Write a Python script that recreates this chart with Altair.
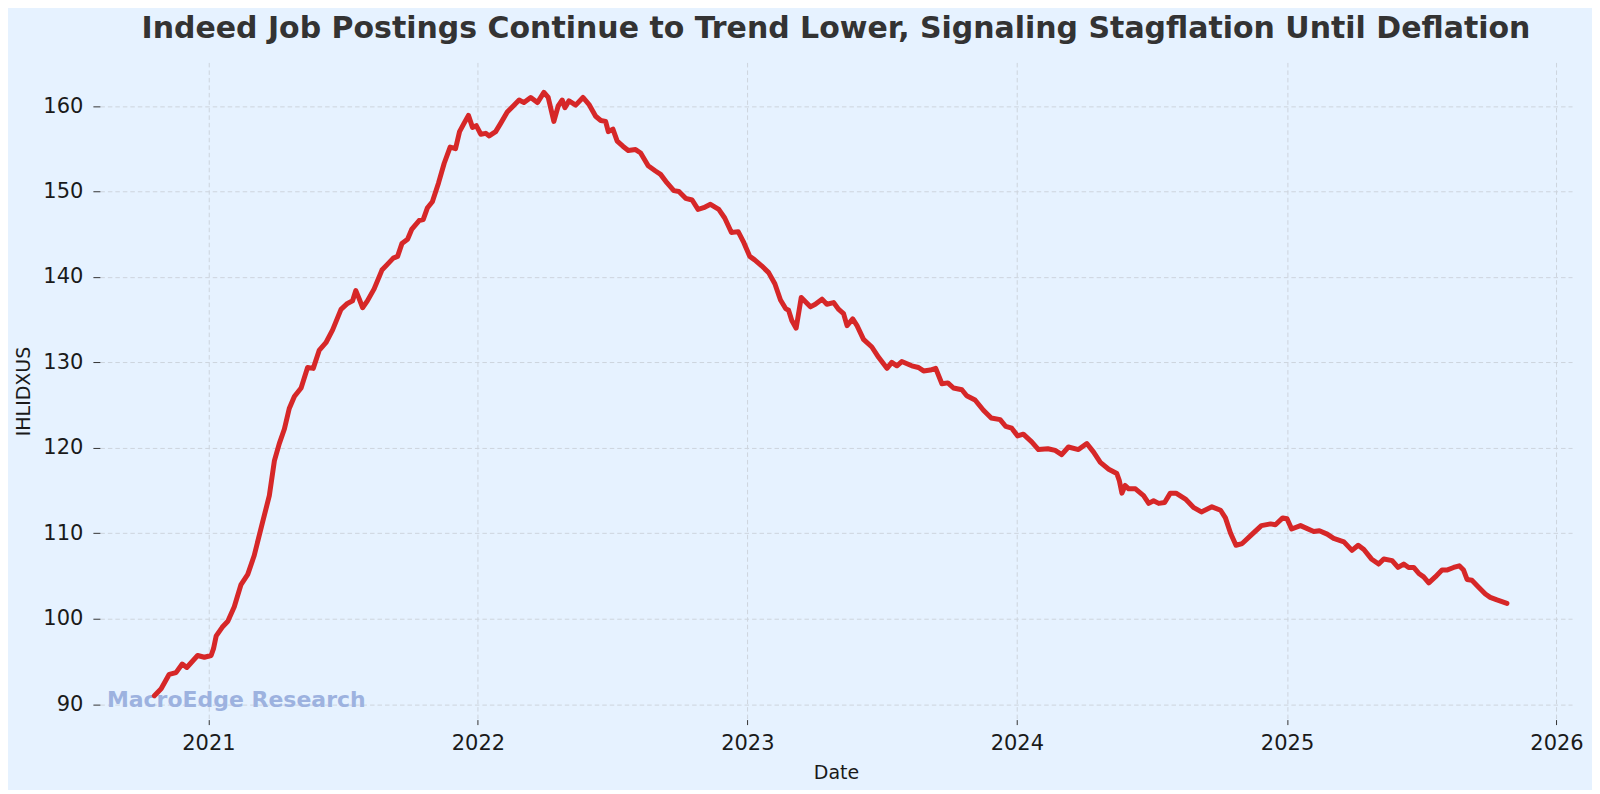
import altair as alt
import pandas as pd
import numpy as np

TITLE = "Indeed Job Postings Continue to Trend Lower, Signaling Stagflation Until Deflation"
WATERMARK = "MacroEdge Research"

# dates as decimal years
year_frac = [
    2020.800, 2020.825, 2020.855, 2020.880, 2020.903, 2020.920, 2020.940, 2020.960, 2020.985, 2021.010,
    2021.019, 2021.029, 2021.051, 2021.072, 2021.096, 2021.121, 2021.146, 2021.170, 2021.201, 2021.226,
    2021.245, 2021.263, 2021.282, 2021.300, 2021.319, 2021.344, 2021.368, 2021.389, 2021.411, 2021.436,
    2021.461, 2021.492, 2021.516, 2021.535, 2021.547, 2021.560, 2021.572, 2021.590, 2021.615, 2021.644,
    2021.665, 2021.686, 2021.702, 2021.718, 2021.739, 2021.755, 2021.782, 2021.797, 2021.813, 2021.831,
    2021.854, 2021.875, 2021.897, 2021.917, 2021.932, 2021.949, 2021.965, 2021.980, 2021.994, 2022.011,
    2022.029, 2022.042, 2022.066, 2022.085, 2022.109, 2022.134, 2022.153, 2022.171, 2022.196, 2022.221,
    2022.245, 2022.261, 2022.282, 2022.298, 2022.313, 2022.323, 2022.338, 2022.363, 2022.390, 2022.412,
    2022.437, 2022.456, 2022.474, 2022.484, 2022.501, 2022.517, 2022.538, 2022.558, 2022.585, 2022.604,
    2022.632, 2022.659, 2022.678, 2022.702, 2022.727, 2022.746, 2022.771, 2022.795, 2022.817, 2022.838,
    2022.863, 2022.894, 2022.916, 2022.941, 2022.966, 2022.987, 2023.009, 2023.027, 2023.053, 2023.079,
    2023.102, 2023.123, 2023.142, 2023.153, 2023.165, 2023.181, 2023.200, 2023.234, 2023.252, 2023.277,
    2023.295, 2023.320, 2023.339, 2023.357, 2023.370, 2023.391, 2023.407, 2023.431, 2023.462, 2023.487,
    2023.518, 2023.536, 2023.555, 2023.573, 2023.610, 2023.635, 2023.654, 2023.679, 2023.699, 2023.722,
    2023.744, 2023.765, 2023.796, 2023.814, 2023.845, 2023.876, 2023.905, 2023.938, 2023.959, 2023.981,
    2024.003, 2024.024, 2024.055, 2024.080, 2024.115, 2024.142, 2024.166, 2024.191, 2024.228, 2024.259,
    2024.284, 2024.309, 2024.340, 2024.370, 2024.379, 2024.389, 2024.401, 2024.414, 2024.439, 2024.469,
    2024.488, 2024.506, 2024.525, 2024.547, 2024.568, 2024.589, 2024.624, 2024.655, 2024.683, 2024.722,
    2024.754, 2024.772, 2024.791, 2024.811, 2024.834, 2024.871, 2024.905, 2024.939, 2024.957, 2024.984,
    2025.000, 2025.017, 2025.050, 2025.099, 2025.120, 2025.149, 2025.173, 2025.211, 2025.241, 2025.264,
    2025.285, 2025.313, 2025.340, 2025.359, 2025.390, 2025.412, 2025.433, 2025.451, 2025.470, 2025.489,
    2025.507, 2025.526, 2025.550, 2025.575, 2025.593, 2025.618, 2025.639, 2025.655, 2025.668, 2025.686,
    2025.711, 2025.736, 2025.754, 2025.779, 2025.816,
]

ihlidxus = [
    91.0, 91.8, 93.5, 93.7, 94.7, 94.3, 95.0, 95.7, 95.5, 95.7,
    96.5, 98.0, 99.0, 99.7, 101.4, 104.0, 105.2, 107.4, 111.3, 114.4,
    118.5, 120.5, 122.2, 124.6, 126.0, 127.0, 129.4, 129.3, 131.4, 132.3,
    133.8, 136.2, 136.9, 137.2, 138.4, 137.4, 136.4, 137.2, 138.6, 140.8,
    141.5, 142.2, 142.4, 143.9, 144.4, 145.6, 146.6, 146.7, 148.1, 148.8,
    151.0, 153.3, 155.2, 155.0, 157.0, 158.0, 158.9, 157.5, 157.7, 156.7,
    156.8, 156.5, 157.0, 158.0, 159.3, 160.1, 160.7, 160.4, 161.0, 160.4,
    161.6, 161.0, 158.2, 160.0, 160.7, 159.8, 160.6, 160.1, 161.0, 160.2,
    158.8, 158.3, 158.2, 157.0, 157.3, 155.9, 155.3, 154.8, 154.9, 154.5,
    153.0, 152.4, 152.0, 151.0, 150.1, 150.0, 149.2, 149.0, 147.9, 148.1,
    148.5, 147.9, 146.9, 145.2, 145.3, 144.0, 142.4, 142.0, 141.3, 140.5,
    139.2, 137.3, 136.3, 136.1, 134.9, 134.0, 137.6, 136.5, 136.8, 137.4,
    136.8, 137.0, 136.2, 135.7, 134.3, 135.1, 134.3, 132.7, 131.8, 130.6,
    129.3, 130.0, 129.6, 130.1, 129.6, 129.4, 129.0, 129.1, 129.3, 127.5,
    127.6, 127.0, 126.8, 126.1, 125.6, 124.4, 123.5, 123.3, 122.5, 122.3,
    121.4, 121.6, 120.7, 119.8, 119.9, 119.7, 119.2, 120.1, 119.8, 120.5,
    119.5, 118.3, 117.5, 117.0, 116.2, 114.7, 115.6, 115.2, 115.2, 114.4,
    113.5, 113.8, 113.5, 113.6, 114.7, 114.7, 114.0, 113.0, 112.5, 113.1,
    112.7, 111.8, 110.0, 108.6, 108.8, 109.9, 110.9, 111.1, 111.0, 111.8,
    111.7, 110.5, 110.9, 110.2, 110.3, 109.9, 109.4, 109.0, 108.0, 108.6,
    108.1, 107.0, 106.4, 107.0, 106.8, 106.0, 106.4, 106.0, 106.0, 105.3,
    104.9, 104.2, 104.9, 105.7, 105.7, 106.0, 106.2, 105.7, 104.6, 104.5,
    103.7, 102.9, 102.5, 102.2, 101.8,
]

x_ticks_years = [2021, 2022, 2023, 2024, 2025, 2026]
y_ticks = [90, 100, 110, 120, 130, 140, 150, 160]


def to_date(y):
    yr = int(np.floor(y))
    start = pd.Timestamp(year=yr, month=1, day=1)
    end = pd.Timestamp(year=yr + 1, month=1, day=1)
    return (start + (end - start) * (y - yr)).round("h")


df = pd.DataFrame({"Date": [to_date(v) for v in year_frac], "IHLIDXUS": ihlidxus})

PLOT_W = 1474
PLOT_H = 658
FONT = "DejaVu Sans"

x_axis = alt.Axis(
    values=[alt.DateTime(year=y, month=1, date=1) for y in x_ticks_years],
    format="%Y",
    title="Date",
    labelFontSize=21,
    labelColor="#1a1a1a",
    labelPadding=8,
    tickSize=5,
    tickColor="#333333",
    domain=False,
    grid=True,
    gridColor="#cdd4dd",
    gridDash=[4.5, 3],
    gridWidth=1,
    titleFontSize=19,
    titleFontWeight="normal",
    titleColor="#1a1a1a",
    titleX=PLOT_W / 2,
    titleY=59,
    titleBaseline="alphabetic",
    titleAlign="center",
)

y_axis = alt.Axis(
    values=y_ticks,
    title="IHLIDXUS",
    labelFontSize=21,
    labelColor="#1a1a1a",
    labelPadding=10,
    tickSize=7,
    tickColor="#333333",
    domain=False,
    grid=True,
    gridColor="#cdd4dd",
    gridDash=[4.5, 3],
    gridWidth=1,
    titleFontSize=19,
    titleFontWeight="normal",
    titleColor="#1a1a1a",
    titleAngle=270,
    titleX=-70,
    titleY=PLOT_H / 2,
    titleAlign="center",
    titleBaseline="alphabetic",
)

line = alt.Chart(df).mark_line(
    color="#D62728", strokeWidth=5, strokeJoin="round", strokeCap="round"
).encode(
    x=alt.X(
        "Date:T",
        scale=alt.Scale(
            domain=[alt.DateTime(year=2020, month=8, date=7), alt.DateTime(year=2026, month=1, date=22)]
        ),
        axis=x_axis,
    ),
    y=alt.Y(
        "IHLIDXUS:Q",
        scale=alt.Scale(domain=[88.2, 165.1], nice=False, zero=False),
        axis=y_axis,
    ),
)

wm = alt.Chart(pd.DataFrame({"t": [WATERMARK]})).mark_text(
    font=FONT, fontSize=22, fontWeight="bold", color="#9DB2DF", align="left", baseline="alphabetic"
).encode(text="t:N", x=alt.value(7), y=alt.value(645))

chart = alt.layer(wm, line).properties(
    width=PLOT_W,
    height=PLOT_H,
    autosize=alt.AutoSizeParams(type="none"),
    padding={"left": 92, "top": 54, "right": 20, "bottom": 70},
    background="#E6F2FF",
    title=alt.TitleParams(
        TITLE,
        fontSize=30,
        fontWeight="bold",
        color="#333333",
        font=FONT,
        anchor="middle",
        frame="group",
        offset=18,
    ),
).configure_view(stroke=None).configure_axis(labelFont=FONT, titleFont=FONT)

chart.save("out.html", embed_options={"renderer": "svg", "actions": False})
